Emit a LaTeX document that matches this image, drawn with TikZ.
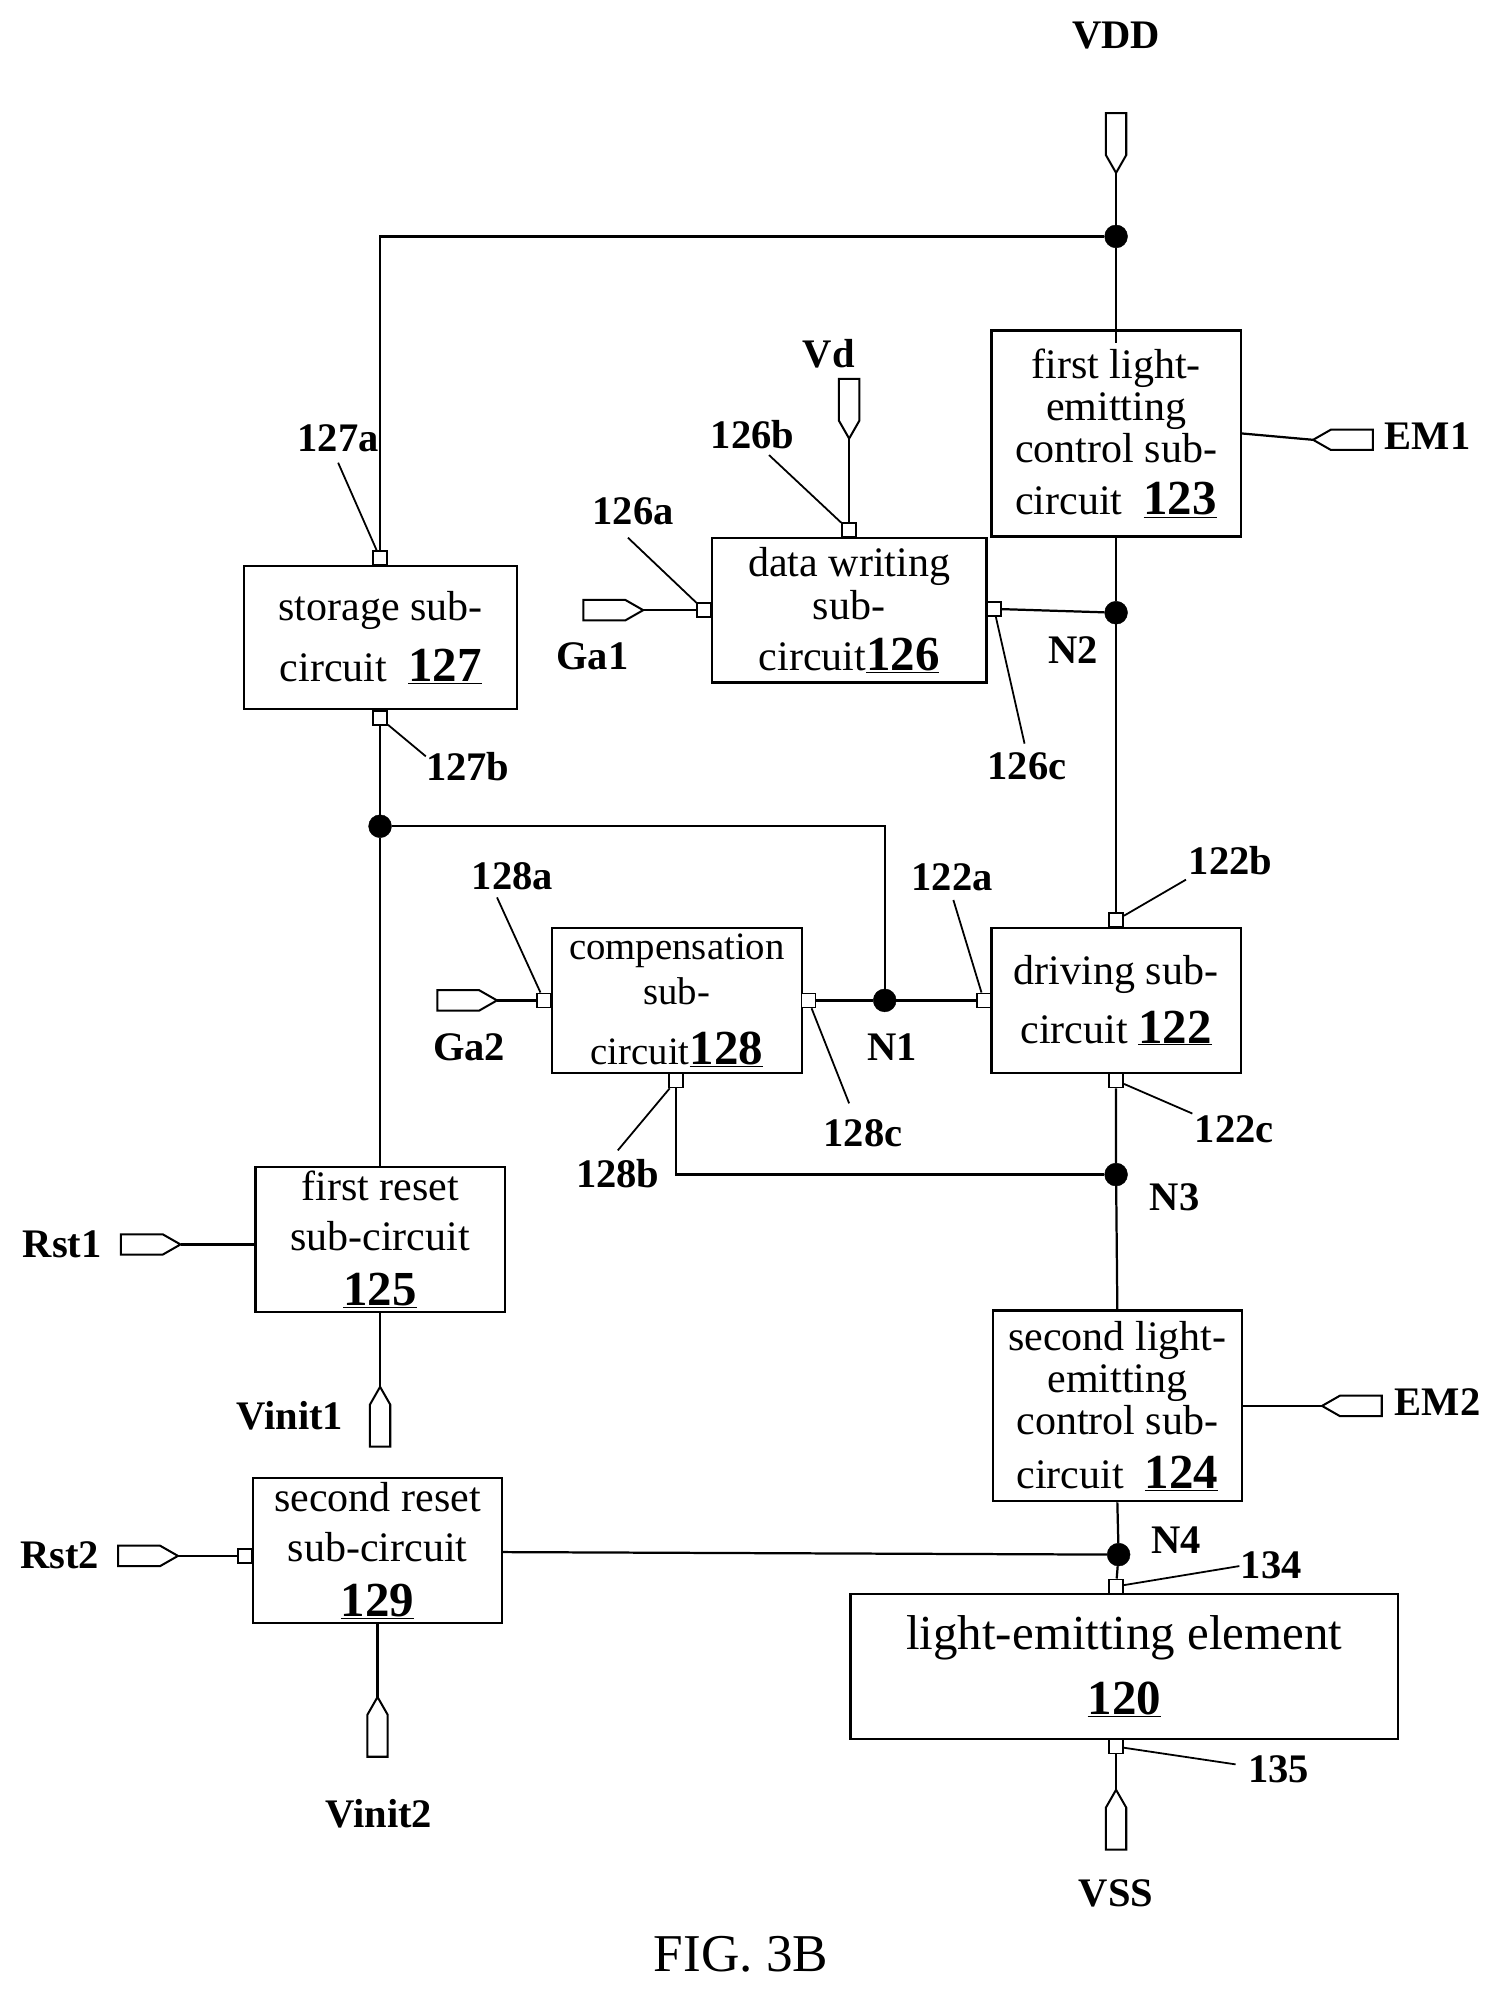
\documentclass[tikz,border=0pt]{standalone}
\usepackage{fontspec}
\setmainfont{Liberation Serif}
\newcommand{\boxfont}{\fontsize{37.6}{37.4}\selectfont}
\newcommand{\bnum}[1]{{\fontsize{43.8}{37.4}\selectfont\underline{\textbf{#1}}}}
\def\uu{0.04cm}
\tikzset{
  wire/.style={line width=2pt,black},
  blockbox/.style={draw=black,line width=2pt,fill=white,inner sep=0pt,align=center,font=\boxfont},
  port/.style={draw=black,line width=1.6pt,fill=white,inner sep=0pt,minimum size=11*\uu,rectangle},
  junction/.style={circle,fill=black,draw=black,inner sep=0pt,minimum size=18*\uu},
  lbl/.style={inner sep=0pt,text height=.66em,text depth=0pt,yshift=-7*\uu,font=\fontsize{36.3}{40}\selectfont\bfseries},
  pinshape/.pic={
    \draw[wire,line width=1.8pt,fill=white] (0,0)--(14,8)--(47,8)--(47,-8)--(14,-8)--cycle;
    \coordinate (-tip) at (0,0);
  }
}
\begin{document}
\begin{tikzpicture}[x=\uu,y=-\uu]
\useasboundingbox (0,0) rectangle (1180,1566.3);
% blocks
\node[blockbox,minimum width=196*\uu,minimum height=162*\uu] (b123) at (878,341) {first light-\\emitting\\control sub-\\[9.5pt]circuit\ \ \bnum{123}};
\node[blockbox,minimum width=216*\uu,minimum height=114*\uu] (b126) at (668,480) {data writing\\[1pt]sub-\\[8pt]circuit\bnum{126}};
\node[blockbox,minimum width=215*\uu,minimum height=113*\uu] (b127) at (299.5,501.5) {storage sub-\\[17pt]circuit\ \ \bnum{127}};
\node[blockbox,minimum width=197*\uu,minimum height=114*\uu,font=\fontsize{34.7}{37.4}\selectfont] (b128) at (532.5,787) {compensation\\[3.4pt]sub-\\[16pt]circuit\bnum{128}};
\node[blockbox,minimum width=196*\uu,minimum height=114*\uu] (b122) at (878,787) {driving sub-\\[15pt]circuit \bnum{122}};
\node[blockbox,minimum width=196*\uu,minimum height=114*\uu] (b125) at (299,975) {first reset\\[7pt]sub-circuit\\[12pt]\bnum{125}};
\node[blockbox,minimum width=196*\uu,minimum height=114*\uu] (b129) at (297,1220) {second reset\\[7pt]sub-circuit\\[12pt]\bnum{129}};
\node[blockbox,minimum width=196*\uu,minimum height=150*\uu] (b124) at (879,1106) {second light-\\emitting\\control sub-\\[11pt]circuit\ \ \bnum{124}};
\node[blockbox,minimum width=431*\uu,minimum height=114*\uu,font=\fontsize{43.8}{58}\selectfont] (b120) at (884.5,1311) {light-emitting element\\\bnum{120}};
% ports
\node[port] (p127a) at (299,439) {};
\node[port] (p127b) at (299,565) {};
\node[port] (p126b) at (668,417) {};
\node[port] (p126a) at (554,480) {};
\node[port] (p126c) at (782,479) {};
\node[port] (p128a) at (428,787) {};
\node[port] (p128c) at (636,787) {};
\node[port] (p128b) at (532,850) {};
\node[port] (p122a) at (774,787) {};
\node[port] (p122b) at (878,724) {};
\node[port] (p122c) at (878,850) {};
\node[port] (p134) at (878,1248) {};
\node[port] (p135) at (878,1374) {};
\node[port] (p129) at (193,1224) {};
% junctions
\node[junction] (jtop) at (878,186) {};
\node[junction] (n2) at (878,482) {};
\node[junction] (jleft) at (299,650) {};
\node[junction] (n1) at (696,787) {};
\node[junction] (n3) at (878,924) {};
\node[junction] (n4) at (880,1223) {};
% pins
\pic[rotate=90] (vdd) at (878,136) {pinshape};
\pic[rotate=90] (vd) at (668,345) {pinshape};
\pic (em1) at (1033,346) {pinshape};
\pic (em2) at (1040,1106) {pinshape};
\pic[rotate=180] (ga1) at (506,480) {pinshape};
\pic[rotate=180] (ga2) at (391,787) {pinshape};
\pic[rotate=180] (rst1) at (142,979) {pinshape};
\pic[rotate=180] (rst2) at (140,1224) {pinshape};
\pic[rotate=270] (vinit1) at (299,1091) {pinshape};
\pic[rotate=270] (vinit2) at (297,1335) {pinshape};
\pic[rotate=270] (vss) at (878,1408) {pinshape};
% wires
\coordinate (in123) at (878,270);
\coordinate (em1in) at (977,341);
\coordinate (corner1) at (299,186);
\coordinate (corner2) at (696,650);
\coordinate (corner3) at (532,924);
\coordinate (e129) at (395,1221);
\draw[wire] (vdd-tip) -- (jtop) -- (in123);
\draw[wire] (jtop) -- (corner1) -- (p127a);
\draw[wire] (b123.south) -- (n2) -- (p122b);
\draw[wire] (p126c) -- (n2);
\draw[wire] (vd-tip) -- (p126b);
\draw[wire] (ga1-tip) -- (p126a);
\draw[wire] (em1in) -- (em1-tip);
\draw[wire] (p127b) -- (jleft) -- (b125.north);
\draw[wire] (jleft) -- (corner2) -- (n1);
\draw[wire] (p128c) -- (n1) -- (p122a);
\draw[wire] (ga2-tip) -- (p128a);
\draw[wire] (p128b) -- (corner3) -- (n3);
\draw[wire] (p122c) -- (n3) -- (b124.north);
\draw[wire] (b124.south) -- (n4) -- (p134);
\draw[wire] (em2-tip) -- (em2-tip -| b124.east);
\draw[wire] (e129) -- (n4);
\draw[wire] (rst1-tip) -- (rst1-tip -| b125.west);
\draw[wire] (rst2-tip) -- (p129);
\draw[wire] (vinit1-tip) -- (b125.south);
\draw[wire] (vinit2-tip) -- (b129.south);
\draw[wire] (vss-tip) -- (p135);
% leader ends
\coordinate (l127a) at (266,364);
\coordinate (l127b) at (335,595);
\coordinate (l126b) at (605,358);
\coordinate (l126a) at (494,423);
\coordinate (l126c) at (806,585);
\coordinate (l128a) at (391,706);
\coordinate (l128c) at (668,868);
\coordinate (l128b) at (486,905);
\coordinate (l122a) at (750,708);
\coordinate (l122b) at (933,692);
\coordinate (l122c) at (938,876);
\coordinate (l134) at (975,1232);
\coordinate (l135) at (972,1388);
\foreach \p/\l in {p127a/l127a,p127b/l127b,p126b/l126b,p126a/l126a,p126c/l126c,p128a/l128a,p128c/l128c,p128b/l128b,p122a/l122a,p122b/l122b,p122c/l122c,p134/l134,p135/l135}
  \draw[wire,line width=1.6pt] (\p) -- (\l);
% labels
\node[lbl] (tvdd) at (878,28) {VDD};
\node[lbl] (tvd) at (652,279) {Vd};
\node[lbl] (t126b) at (592,343) {126b};
\node[lbl] (t126a) at (498,403) {126a};
\node[lbl] (t127a) at (266,345) {127a};
\node[lbl] (tga1) at (466,517) {Ga1};
\node[lbl] (tem1) at (1123,344) {EM1};
\node[lbl] (tn2) at (844,512) {N2};
\node[lbl] (t126c) at (808,603) {126c};
\node[lbl] (t127b) at (368,604) {127b};
\node[lbl] (t128a) at (403,690) {128a};
\node[lbl] (t122a) at (749,691) {122a};
\node[lbl] (t122b) at (968,678) {122b};
\node[lbl] (tga2) at (369,824) {Ga2};
\node[lbl] (tn1) at (702,824) {N1};
\node[lbl] (t128c) at (679,892) {128c};
\node[lbl] (t122c) at (971,889) {122c};
\node[lbl] (t128b) at (486,924) {128b};
\node[lbl] (tn3) at (924,942) {N3};
\node[lbl] (trst1) at (49,979) {Rst1};
\node[lbl] (tem2) at (1131,1104) {EM2};
\node[lbl] (tvinit1) at (228,1115) {Vinit1};
\node[lbl] (trst2) at (47,1224) {Rst2};
\node[lbl] (tn4) at (925,1212) {N4};
\node[lbl] (t134) at (1000,1232) {134};
\node[lbl] (t135) at (1006,1392) {135};
\node[lbl] (tvinit2) at (298,1428) {Vinit2};
\node[lbl] (tvss) at (878,1490) {VSS};
\node[inner sep=0pt,font=\fontsize{47.6}{50}\selectfont] (tfig) at (583,1537) {FIG. 3B};
\end{tikzpicture}
\end{document}
